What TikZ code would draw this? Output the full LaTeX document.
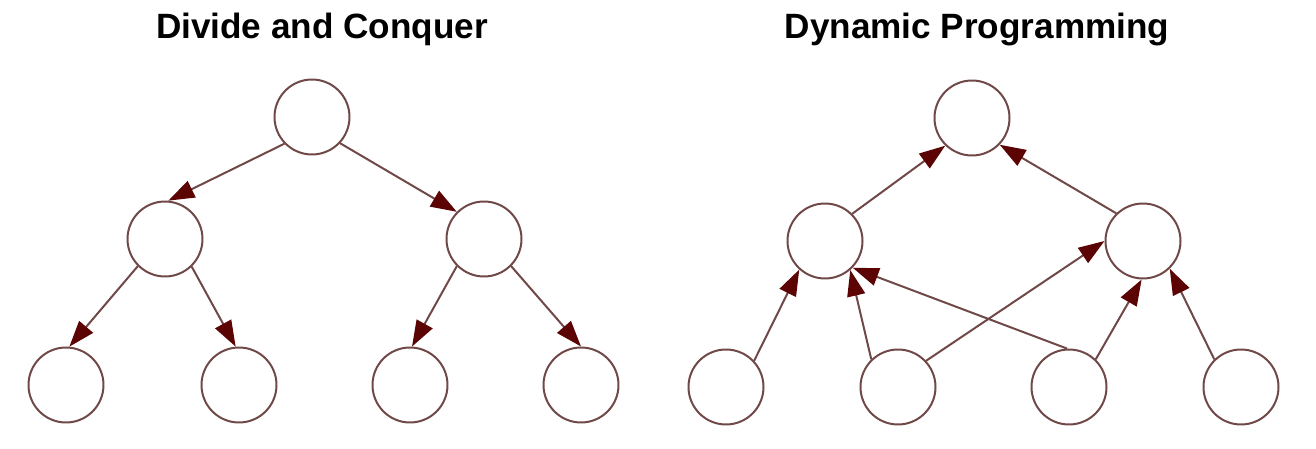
\documentclass[tikz,border=0pt]{standalone}
\usepackage{fontspec}
\setmainfont{Liberation Sans}
\usepackage{tikz}
\usetikzlibrary{arrows.meta}
\definecolor{edgecol}{RGB}{112,72,72}
\definecolor{headcol}{RGB}{92,4,4}
\tikzset{
  vtx/.style={circle,draw=edgecol,line width=0.04cm,minimum size=1.5cm,inner sep=0pt},
  arr/.style={draw=edgecol,line width=0.04cm,
    -{Triangle[length=0.52cm,width=0.36cm,color=headcol,fill=headcol]}},
  ttl/.style={anchor=base,font=\fontsize{20}{24}\selectfont\bfseries}
}
\begin{document}
\begin{tikzpicture}[x=0.02cm,y=-0.02cm]
  \useasboundingbox (0,0) rectangle (1316,449);
    \begin{scope}[shift={(0,0)}]
      \node[ttl] (T) at (322,39) {Divide and Conquer};
      \node[vtx] (R) at (312,117) {};
      \node[vtx] (A) at (165,239) {};
      \node[vtx] (B) at (484,239) {};
      \node[vtx] (A1) at (66,385) {};
      \node[vtx] (A2) at (239,385) {};
      \node[vtx] (B1) at (410,385) {};
      \node[vtx] (B2) at (581,385) {};
      \draw[arr] (R.224)--(A.85); \draw[arr] (R.317)--(B.135);
      \draw[arr] (A.225)--(A1.85); \draw[arr] (A.314)--(A2.95);
      \draw[arr] (B.225)--(B1.87); \draw[arr] (B.315)--(B2.90);
    \end{scope}
    %%
    \begin{scope}[shift={(660,0)}]
      \node[ttl] (T) at (317,39) {Dynamic Programming};
      \node[vtx] (R) at (312,118) {};
      \node[vtx] (A) at (165,241) {};
      \node[vtx] (B) at (483,241) {};
      \node[vtx] (A1) at (66,387) {};
      \node[vtx] (A2) at (238,387) {};
      \node[vtx] (B1) at (409,387) {};
      \node[vtx] (B2) at (581,387) {};
      \draw[arr] (A.45)--(R.226); \draw[arr] (B.134)--(R.316);
      \draw[arr] (A1.43)--(A.228); \draw[arr] (A2.134)--(A.311);
      \draw[arr] (A2.43)--(B.180); \draw[arr] (B1.93)--(A.316);
      \draw[arr] (B1.46)--(B.268); \draw[arr] (B2.134)--(B.314);
    \end{scope}
  \end{tikzpicture}
\end{document}
